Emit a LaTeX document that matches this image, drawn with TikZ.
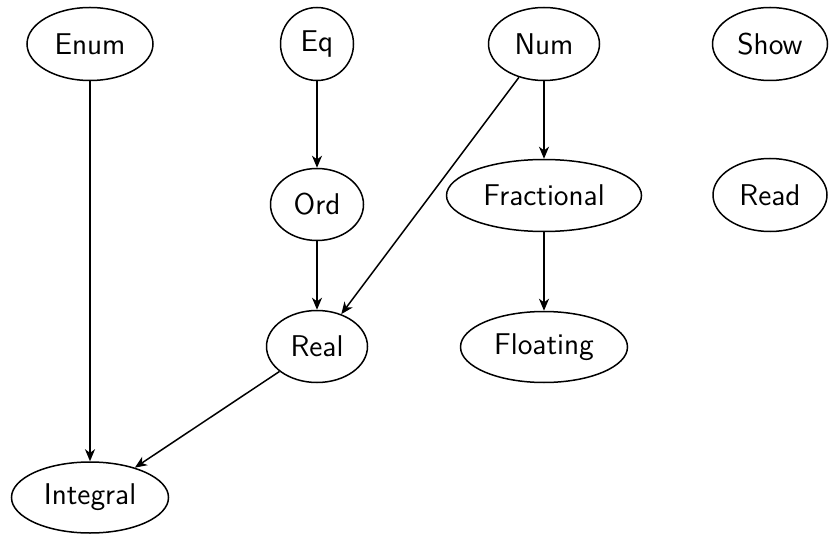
\documentclass[tikz,border=0pt]{standalone}
\usepackage{fontspec}
\usetikzlibrary{shapes.geometric,arrows.meta}
\tikzset{
  cls/.style={ellipse, draw, line width=0.75pt, inner sep=0pt,
    font=\fontsize{15}{17}\selectfont\sffamily},
  edge/.style={draw, line width=0.75pt, -{Stealth[length=6pt,width=5pt,inset=1.8pt]}}
}
\begin{document}
\begin{tikzpicture}[x=0.5pt,y=-0.5pt]
\useasboundingbox (0,0) rectangle (829,534);
\node[cls, minimum width=63pt, minimum height=36.5pt] (enum) at (90,44) {Enum};
\node[cls, minimum width=36.5pt, minimum height=36.5pt] (eq) at (317,44) {Eq};
\node[cls, minimum width=55.5pt, minimum height=36.5pt] (num) at (544,44) {Num};
\node[cls, minimum width=57.5pt, minimum height=36.5pt] (show) at (770,44) {Show};
\node[cls, minimum width=46.5pt, minimum height=36pt] (ord) at (317,204.5) {Ord};
\node[cls, minimum width=97.5pt, minimum height=36pt] (frac) at (544,195.5) {Fractional};
\node[cls, minimum width=57pt, minimum height=36.5pt] (read) at (770,195) {Read};
\node[cls, minimum width=50.5pt, minimum height=36pt] (real) at (317,346.5) {Real};
\node[cls, minimum width=83.5pt, minimum height=35.5pt] (float) at (544,347) {Floating};
\node[cls, minimum width=78.5pt, minimum height=35.5pt] (integral) at (90,497.5) {Integral};
\draw[edge] (enum) -- (integral);
\draw[edge] (eq) -- (ord);
\draw[edge] (ord) -- (real);
\draw[edge] (num) -- (frac);
\draw[edge] (num) -- (real);
\draw[edge] (frac) -- (float);
\draw[edge] (real) -- (integral);
\end{tikzpicture}
\end{document}
